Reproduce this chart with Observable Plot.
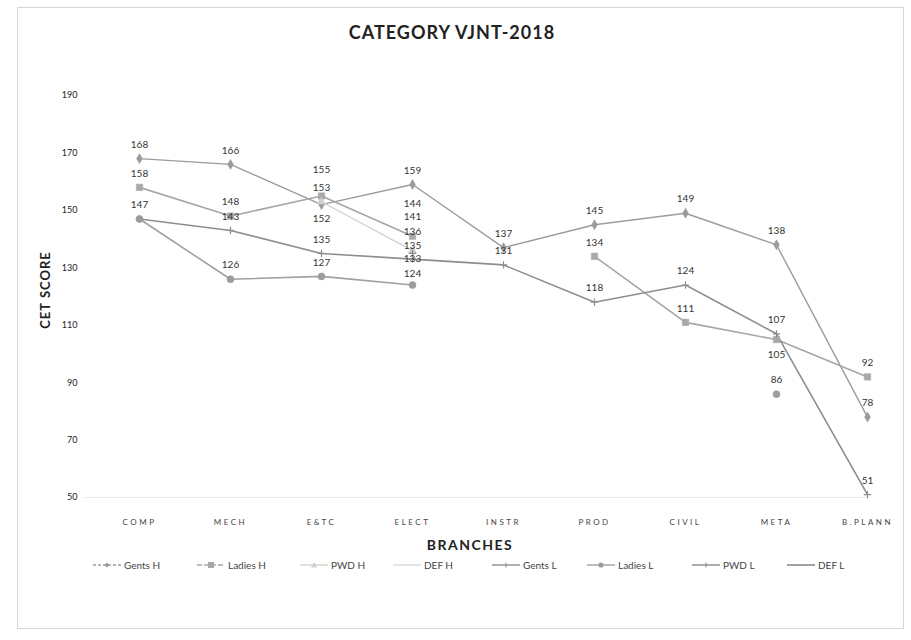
<!DOCTYPE html>
<html><head><meta charset="utf-8">
<script src="https://cdn.jsdelivr.net/npm/d3@7"></script>
<script src="https://cdn.jsdelivr.net/npm/@observablehq/plot@0.6"></script>
<style>
body{margin:0;background:#fff;font-family:Lato,"Open Sans",sans-serif;}
#wrap{position:relative;width:911px;height:640px;overflow:hidden;}
#frame{position:absolute;left:17px;top:7px;width:887px;height:622px;border:1px solid #d6d6d6;box-sizing:border-box;}
#title{position:absolute;left:0;top:21px;width:904px;text-align:center;font-weight:700;font-size:18px;letter-spacing:1px;color:#222;}
#chart{position:absolute;left:0;top:60px;}
#xlabel{position:absolute;left:0;width:940px;text-align:center;top:536px;font-weight:700;font-size:14px;letter-spacing:1.5px;color:#222;}
#ylabel{position:absolute;left:45px;top:290px;transform:translate(-50%,-50%) rotate(-90deg);font-weight:700;font-size:13px;letter-spacing:1px;color:#222;white-space:nowrap;}
.leg{position:absolute;top:557px;height:16px;display:flex;align-items:center;font-size:10px;color:#444;white-space:nowrap;}
.leg svg{margin-right:3px;}
#chart [aria-label="x-axis tick label"] text{font-size:8px;letter-spacing:2.5px;fill:#444;}
#chart [aria-label="y-axis tick label"] text{font-size:9px;fill:#222;}
</style>
</head><body>
<div id="wrap">
  <div id="frame"></div>
  <div id="title">CATEGORY VJNT-2018</div>
  <div id="chart"></div>
  <div id="ylabel">CET SCORE</div>
  <div id="xlabel">BRANCHES</div>
  <div id="legend"></div>
</div>
<script>
// ---- data ----
const categories = ["COMP","MECH","E&TC","ELECT","INSTR","PROD","CIVIL","META","B.PLANN"];
const seriesNames = ["Gents H","Ladies H","PWD H","DEF H","Gents L","Ladies L","PWD L","DEF L"];
const gentsH  = [168,166,152,159,137,145,149,138,78];
const ladiesH = [158,148,155,141,null,134,111,105,92];
const pwdH    = [null,null,153,136,null,null,null,null,null];
const defH    = [null,null,null,144,null,null,null,null,null];
const gentsL  = [147,143,135,133,131,118,124,107,51];
const ladiesL = [147,126,127,124,null,null,null,86,null];
const pwdL    = [null,null,null,135,null,null,null,null,null];
const defL    = [null,null,null,null,null,null,null,null,null];
const yTicks  = [50,70,90,110,130,150,170,190];

const seriesValues = [gentsH, ladiesH, pwdH, defH, gentsL, ladiesL, pwdL, defL];

// ---- styles ----
const styles = {
  "Gents H":  {stroke:"#9c9c9c", width:1.4, symbol:"diamond", r:3,   fill:"#9a9a9a", legDash:"3,2"},
  "Ladies H": {stroke:"#a6a6a6", width:1.6, symbol:"square",  r:3.6, fill:"#a8a8a8", legDash:"5,2"},
  "PWD H":    {stroke:"#d2d2d2", width:1.4, symbol:"triangle",r:3,   fill:"#cfcfcf", legDash:null},
  "DEF H":    {stroke:"#d8d8d8", width:1.6, symbol:null,      r:0,   fill:"none",    legDash:null},
  "Gents L":  {stroke:"#8e8e8e", width:1.6, symbol:"plus",    r:2.5, fill:"#8e8e8e", legDash:null},
  "Ladies L": {stroke:"#a0a0a0", width:1.6, symbol:"circle",  r:3.5, fill:"#9c9c9c", legDash:null},
  "PWD L":    {stroke:"#8a8a8a", width:1.4, symbol:"plus",    r:2.5, fill:"#8a8a8a", legDash:null},
  "DEF L":    {stroke:"#7a7a7a", width:1.6, symbol:null,      r:0,   fill:"none",    legDash:null}
};
// vertical label nudges (px) where labels crowd together
const labelDy = {
  "Ladies H|E&TC": -26, "PWD H|E&TC": -14, "Gents H|E&TC": 14,
  "DEF H|ELECT": -24, "Ladies H|ELECT": -19, "PWD H|ELECT": -19,
  "PWD L|ELECT": -8, "Gents L|ELECT": 0, "Ladies L|ELECT": -11,
  "Ladies H|META": 15
};

const rows = seriesNames.flatMap((s, i) =>
  categories.map((c, j) => ({series: s, cat: c, value: seriesValues[i][j]})));

// one label per identical value at a category (they print on top of each other)
const seen = new Set();
const labelRows = rows.filter(d => {
  if (d.value == null) return false;
  const k = d.cat + "|" + d.value;
  if (seen.has(k)) return false;
  seen.add(k);
  return true;
});

const marks = [Plot.ruleY([50], {stroke:"#ececec"})];
for (const s of seriesNames) {
  const st = styles[s];
  const data = rows.filter(d => d.series === s);
  marks.push(Plot.line(data, {x:"cat", y:"value", stroke:st.stroke, strokeWidth:st.width}));
}
for (const s of seriesNames) {
  const st = styles[s];
  if (!st.symbol) continue;
  const data = rows.filter(d => d.series === s && d.value != null);
  if (st.symbol === "plus") {
    marks.push(Plot.dot(data, {x:"cat", y:"value", symbol:"plus", r:st.r, stroke:st.fill, strokeWidth:1.2}));
  } else {
    marks.push(Plot.dot(data, {x:"cat", y:"value", symbol:st.symbol, r:st.r, fill:st.fill, stroke:st.fill, strokeWidth:0.6}));
  }
}
// group labels by nudge so each text mark has a constant dy
const dyGroups = d3.group(labelRows, d => labelDy[d.series + "|" + d.cat] ?? -14);
for (const [dy, data] of dyGroups) {
  marks.push(Plot.text(data, {
    x:"cat", y:"value", text: d => String(d.value), dy, fontSize:10, fill:"#333", fontFamily:"Lato"
  }));
}
marks.push(Plot.axisX({tickSize:0, tickPadding:22, label:null}));
marks.push(Plot.axisY({ticks:yTicks, tickSize:0, tickPadding:7, label:null}));

const chart = Plot.plot({
  width: 911,
  height: 495,
  marginLeft: 84,
  marginRight: 42,
  marginTop: 35,
  marginBottom: 58,
  style: {fontFamily:"Lato, 'Open Sans', sans-serif", fontSize:"10px", background:"transparent", overflow:"visible"},
  x: {type:"point", domain:categories, range:[137, 869], padding:0},
  y: {domain:[50,190]},
  marks
});
document.getElementById("chart").appendChild(chart);

// ---- legend ----
const legLeft = [93,197,300,393,492,587,692,787];
const legend = document.getElementById("legend");
seriesNames.forEach((s, i) => {
  const st = styles[s];
  const w = 28;
  const item = document.createElement("div");
  item.className = "leg";
  item.style.left = legLeft[i] + "px";
  let sym = "";
  const cx = w/2, cy = 8;
  if (st.symbol === "diamond") sym = `<path d="M${cx},${cy-2.5}L${cx+2.5},${cy}L${cx},${cy+2.5}L${cx-2.5},${cy}Z" fill="${st.fill}"/>`;
  else if (st.symbol === "square") sym = `<rect x="${cx-3}" y="${cy-3}" width="6" height="6" fill="${st.fill}"/>`;
  else if (st.symbol === "triangle") sym = `<path d="M${cx},${cy-3}L${cx+3},${cy+2.5}L${cx-3},${cy+2.5}Z" fill="${st.fill}"/>`;
  else if (st.symbol === "circle") sym = `<circle cx="${cx}" cy="${cy}" r="2.6" fill="${st.fill}"/>`;
  else if (st.symbol === "plus") sym = `<path d="M${cx},${cy-2.5}V${cy+2.5}" stroke="${st.fill}" stroke-width="1"/>`;
  item.innerHTML = `<svg width="${w}" height="16"><line x1="0" y1="${cy}" x2="${w}" y2="${cy}" stroke="${st.stroke}" stroke-width="1.4" ${st.legDash ? `stroke-dasharray="${st.legDash}"` : ""}/>${sym}</svg><span>${s}</span>`;
  legend.appendChild(item);
});
</script>
</body></html>
